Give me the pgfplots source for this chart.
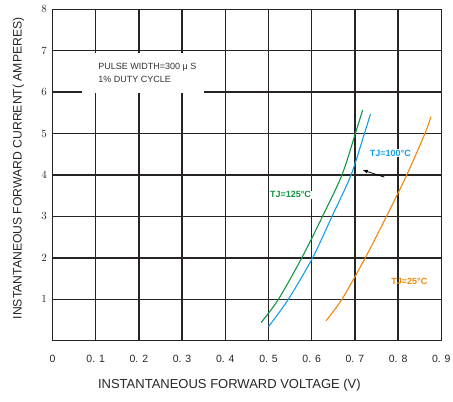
\documentclass[border=0pt]{standalone}
\usepackage{pgfplots}
\pgfplotsset{compat=1.18}
\usepackage{fontspec}
\setmainfont{Liberation Sans}
\usetikzlibrary{arrows.meta}

\definecolor{gridc}{RGB}{40,36,36}
\definecolor{tgreen}{RGB}{20,150,70}
\definecolor{tblue}{RGB}{20,160,230}
\definecolor{torange}{RGB}{240,135,10}

\begin{document}
\begin{tikzpicture}
\begin{axis}[
    name=ax,
    scale only axis,
    width=388.8pt, height=331.4pt,
    xmin=0, xmax=0.9, ymin=0, ymax=8,
    xtick={0,0.1,...,0.9},
    xticklabels={0,0. 1,0. 2,0. 3,0. 4,0. 5,0. 6,0. 7,0. 8,0. 9},
    ytick={1,2,...,8},
    tick style={draw=none},
    grid=major,
    grid style={gridc, line width=1.4pt},
    axis line style={gridc, line width=1.4pt},
    xticklabel style={font=\fontsize{10.5}{12}\selectfont, color=black!85, yshift=-11pt},
    yticklabel style={font=\fontsize{11}{12}\selectfont, color=black!85, xshift=-2pt},
    xlabel={INSTANTANEOUS FORWARD VOLTAGE (V)},
    ylabel={INSTANTANEOUS FORWARD CURRENT( AMPERES)},
    xlabel style={font=\fontsize{13}{15}\selectfont, color=black!85,
      at={(axis description cs:0.455,0)}, anchor=center, yshift=-44pt},
    ylabel style={font=\fontsize{12.2}{14}\selectfont, color=black!85,
      at={(axis description cs:0,0.52)}, anchor=center, yshift=34pt},
]
\fill[white] (axis cs:0.068,5.97) rectangle (axis cs:0.35,6.95);
\node[anchor=west, font=\fontsize{9}{11}\selectfont, text=black!80, align=left]
  at (axis cs:0.098,6.46) {PULSE WIDTH=300 μ S\\[2pt]1\% DUTY CYCLE};

\addplot[tgreen, line width=1.1pt, smooth] coordinates {
  (0.483,0.44) (0.523,1) (0.577,2) (0.625,3) (0.670,4) (0.701,5) (0.718,5.57)
};
\addplot[tblue, line width=1.1pt, smooth] coordinates {
  (0.500,0.34) (0.546,1) (0.602,2) (0.647,3) (0.691,4) (0.722,5) (0.736,5.47)
};
\addplot[torange, line width=1.1pt, smooth] coordinates {
  (0.633,0.48) (0.670,1) (0.724,2) (0.773,3) (0.820,4) (0.862,5) (0.876,5.41)
};

\draw[-{Latex[length=5pt,width=4pt]}, black, line width=0.8pt]
  (axis cs:0.768,3.95) -- (axis cs:0.718,4.12);
\node[fill=white, inner sep=1pt, font=\fontsize{9}{11}\selectfont\bfseries, text=tblue]
  at (axis cs:0.782,4.53) {TJ=100°C};
\node[fill=white, inner sep=1pt, font=\fontsize{9}{11}\selectfont\bfseries, text=tgreen]
  at (axis cs:0.551,3.52) {TJ=125°C};
\node[inner sep=1pt, font=\fontsize{9}{11}\selectfont\bfseries, text=torange]
  at (axis cs:0.826,1.43) {TJ=25°C};
\end{axis}
\pgfresetboundingbox
\path ([shift={(-52.5pt,-60.3pt)}]ax.south west) rectangle ([shift={(11.7pt,9.3pt)}]ax.north east);
\end{tikzpicture}
\end{document}
